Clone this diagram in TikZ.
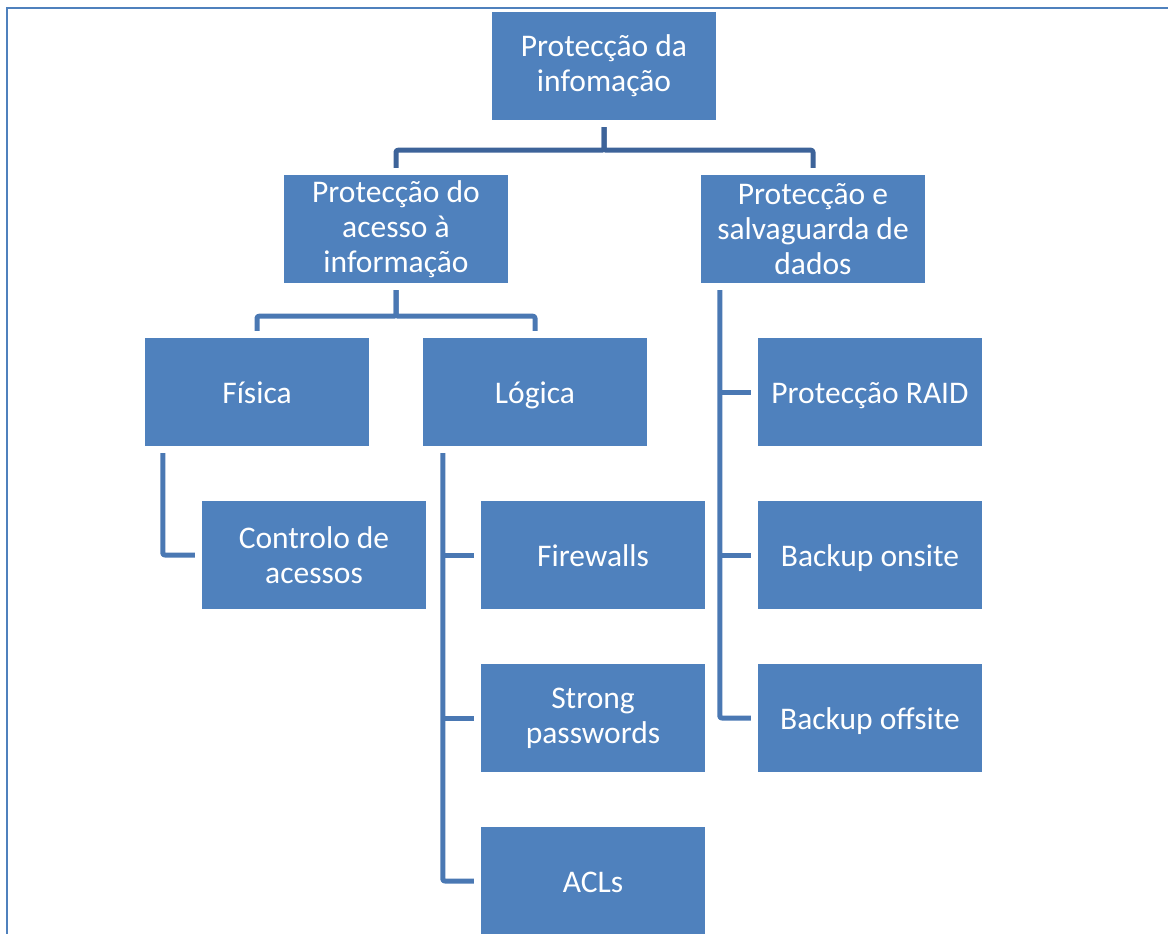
\documentclass[tikz,border=0pt]{standalone}
\usepackage{fontspec}
\setmainfont{Carlito}
\definecolor{boxblue}{HTML}{4F81BD}
\definecolor{linkdark}{HTML}{3D6399}
\definecolor{linkmid}{HTML}{4A78B3}
\begin{document}
\begin{tikzpicture}[x=1pt,y=-1pt,
  card/.style={rectangle, fill=boxblue, minimum width=224pt, minimum height=108pt,
    inner sep=0pt, text=white, align=center,
    font=\fontsize{31.5}{35}\selectfont},
  oneline/.style={card, text height=22pt, text depth=0pt},
  conn/.style={line width=5pt, linkmid, line join=round, rounded corners=2pt},
  conntop/.style={conn, linkdark}]
\useasboundingbox (0,0) rectangle (1168,934);
% frame
\draw[boxblue, line width=2pt] (6.5,934) -- (6.5,8.5) -- (1168,8.5);

% boxes
\node[card] (top) at (604,66)  {Protecção da\\infomação};
\node[card] (acc) at (396,229) {Protecção do\\acesso à\\informação};
\node[card] (sal) at (813,229) {Protecção e\\salvaguarda de\\dados};
\node[oneline] (fis) at (257,392) {Física};
\node[oneline] (log) at (535,392) {Lógica};
\node[card] (ctl) at (314,555) {Controlo de\\acessos};
\node[oneline] (fw)  at (593,555) {Firewalls};
\node[card] (sp)  at (593,718) {Strong\\passwords};
\node[oneline] (acl) at (593,881) {ACLs};
\node[oneline] (raid) at (870,392) {Protecção RAID};
\node[oneline] (bon)  at (870,555) {Backup onsite};
\node[oneline] (boff) at (870,718) {Backup offsite};

% level one
\draw[conntop] ([yshift=-7pt]top.south) -- ++(0,23) -| ([yshift=7pt]acc.north);
\draw[conntop] ([yshift=-7pt]top.south) -- ++(0,23) -| ([yshift=7pt]sal.north);

% access branch
\draw[conn] ([yshift=-7pt]acc.south) -- ++(0,26) -| ([yshift=7pt]fis.north);
\draw[conn] ([yshift=-7pt]acc.south) -- ++(0,26) -| ([yshift=7pt]log.north);

% physical
\draw[conn] ([xshift=18pt,yshift=-7pt]fis.south west) |- ([xshift=-7pt]ctl.west);

% logical
\coordinate (ls) at ([xshift=20pt,yshift=-7pt]log.south west);
\draw[conn] (ls) |- ([xshift=-7pt]acl.west);
\draw[conn] (ls |- fw.west) -- ([xshift=-7pt]fw.west);
\draw[conn] (ls |- sp.west) -- ([xshift=-7pt]sp.west);

% safeguarding
\coordinate (ss) at ([xshift=19pt,yshift=-7pt]sal.south west);
\draw[conn] (ss) |- ([xshift=-7pt]boff.west);
\draw[conn] (ss |- raid.west) -- ([xshift=-7pt]raid.west);
\draw[conn] (ss |- bon.west) -- ([xshift=-7pt]bon.west);
\end{tikzpicture}
\end{document}
